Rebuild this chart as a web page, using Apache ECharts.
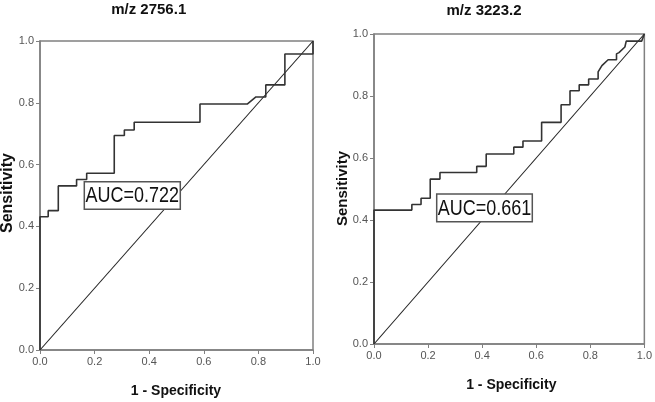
<!DOCTYPE html>
<html>
<head>
<meta charset="utf-8">
<script src="https://cdn.jsdelivr.net/npm/echarts@6/dist/echarts.min.js"></script>
<style>html,body{margin:0;padding:0;background:#fff}#c{width:655px;height:402px}</style>
</head>
<body>
<div id="c"></div>
<script>
// ---- data ----
const titles = ['m/z 2756.1', 'm/z 3223.2'];
const aucLabels = ['AUC=0.722', 'AUC=0.661'];
const xAxisName = '1 - Specificity';
const yAxisName = 'Sensitivity';

const leftFpr  = [0, 0, 0.030, 0.030, 0.067, 0.067, 0.134, 0.134, 0.171, 0.171, 0.272, 0.272, 0.309, 0.309, 0.345, 0.345, 0.586, 0.586, 0.759, 0.791, 0.827, 0.827, 0.897, 0.897, 1.0, 1.0];
const leftSens = [0, 0.431, 0.431, 0.451, 0.451, 0.531, 0.531, 0.552, 0.552, 0.572, 0.572, 0.694, 0.694, 0.712, 0.712, 0.737, 0.737, 0.796, 0.796, 0.819, 0.819, 0.858, 0.858, 0.958, 0.958, 1.0];

const rightFpr  = [0, 0, 0.140, 0.140, 0.174, 0.174, 0.208, 0.208, 0.244, 0.244, 0.380, 0.380, 0.415, 0.415, 0.517, 0.517, 0.551, 0.551, 0.620, 0.620, 0.692, 0.692, 0.725, 0.725, 0.759, 0.759, 0.794, 0.794, 0.829, 0.829, 0.843, 0.866, 0.897, 0.897, 0.906, 0.928, 0.933, 0.990, 1.0];
const rightSens = [0, 0.432, 0.432, 0.450, 0.450, 0.470, 0.470, 0.532, 0.532, 0.553, 0.553, 0.573, 0.573, 0.613, 0.613, 0.635, 0.635, 0.655, 0.655, 0.715, 0.715, 0.772, 0.772, 0.817, 0.817, 0.836, 0.836, 0.855, 0.855, 0.878, 0.898, 0.917, 0.917, 0.936, 0.940, 0.958, 0.977, 0.977, 1.0];

const refFpr = [0, 1];
const refSens = [0, 1];

// ---- chart ----
const zip = (a, b) => a.map((v, i) => [v, b[i]]);
const sans = '"Liberation Sans", Arial, sans-serif';
const frame = '#808080';

function axisCfg(gi) {
  return {
    type: 'value', gridIndex: gi, min: 0, max: 1, interval: 0.2,
    axisLine: { show: true, onZero: false, lineStyle: { color: frame, width: 1.5 } },
    axisTick: { show: true, inside: false, length: 4, lineStyle: { color: frame, width: 1 } },
    axisLabel: { margin: 6, color: '#555', fontSize: 11, fontFamily: sans, formatter: v => v.toFixed(1) },
    splitLine: { show: false }
  };
}

const grids = [
  { left: 40, top: 41, width: 273, height: 309 },
  { left: 374, top: 34, width: 273, height: 310 }
].map(g => Object.assign(g, { show: true, borderColor: frame, borderWidth: 1.5, backgroundColor: 'transparent', containLabel: false }));

function curve(gi, xs, ys) {
  return { type: 'line', xAxisIndex: gi, yAxisIndex: gi, data: zip(xs, ys), showSymbol: false, symbol: 'none',
    lineStyle: { color: '#333', width: 1.6 }, animation: false, z: 3 };
}
function diag(gi) {
  return { type: 'line', xAxisIndex: gi, yAxisIndex: gi, data: zip(refFpr, refSens), showSymbol: false, symbol: 'none',
    lineStyle: { color: '#222', width: 1.1 }, animation: false, z: 2 };
}

function txt(x, y, text, font, rotation) {
  return { type: 'text', x: x, y: y, rotation: rotation || 0, z: 100,
    style: { text: text, font: font, fill: '#111', align: 'center', verticalAlign: 'middle' } };
}
function aucBox(x, y, w, h, text) {
  return [
    { type: 'rect', shape: { x: x, y: y, width: w, height: h }, z: 99,
      style: { fill: '#fff', stroke: '#555', lineWidth: 1.5 } },
    { type: 'text', x: x + w / 2, y: y + h / 2 + 1, scaleY: 1.2, z: 100,
      style: { text: text, font: '18px ' + sans, fill: '#111', align: 'center', verticalAlign: 'middle' } }
  ];
}

const option = {
  animation: false,
  backgroundColor: '#fff',
  grid: grids,
  xAxis: [axisCfg(0), axisCfg(1)],
  yAxis: [axisCfg(0), axisCfg(1)],
  series: [diag(0), curve(0, leftFpr, leftSens), diag(1), curve(1, rightFpr, rightSens)],
  graphic: [
    txt(148.7, 9.5, titles[0], 'bold 15px ' + sans),
    txt(484, 11, titles[1], 'bold 15px ' + sans),
    txt(176, 391.5, xAxisName, 'bold 14px ' + sans),
    txt(511.3, 385, xAxisName, 'bold 14px ' + sans),
    txt(8, 193, yAxisName, 'bold 16px ' + sans, Math.PI / 2),
    txt(342.5, 188.5, yAxisName, 'bold 15px ' + sans, Math.PI / 2),
    ...aucBox(84.3, 181.7, 96, 27.6, aucLabels[0]),
    ...aucBox(436.7, 194, 95.6, 27.7, aucLabels[1])
  ]
};

const chart = echarts.init(document.getElementById('c'), null, { renderer: 'canvas' });
chart.setOption(option);
</script>
</body>
</html>
